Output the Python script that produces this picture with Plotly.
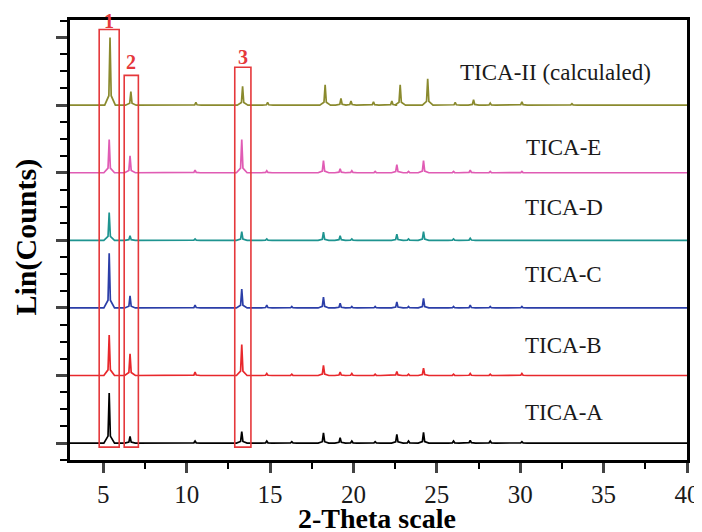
import plotly.graph_objects as go

# ---- data ----
two_theta_exp = [5.35, 6.6, 10.5, 13.3, 14.8, 16.3, 18.2, 19.2, 19.9, 21.3, 22.6, 23.3, 24.2, 26.0, 27.0, 28.2, 30.1]
two_theta_calc = [5.4, 6.65, 10.55, 13.35, 14.85, 18.3, 19.25, 19.85, 21.2, 22.3, 22.8, 24.45, 26.1, 27.2, 28.2, 30.1, 33.1]

heights_A = [0.74, 0.10, 0.03, 0.17, 0.03, 0.02, 0.15, 0.08, 0.03, 0.02, 0.13, 0.03, 0.16, 0.03, 0.04, 0.03, 0.02]
heights_B = [0.60, 0.32, 0.05, 0.46, 0.03, 0.02, 0.15, 0.05, 0.03, 0.02, 0.06, 0.02, 0.11, 0.02, 0.03, 0.02, 0.03]
heights_C = [0.81, 0.18, 0.04, 0.28, 0.04, 0.02, 0.16, 0.07, 0.02, 0.02, 0.09, 0.02, 0.14, 0.02, 0.04, 0.02, 0.02]
heights_D = [0.41, 0.07, 0.02, 0.13, 0.02, 0.01, 0.12, 0.07, 0.02, 0.01, 0.09, 0.02, 0.13, 0.02, 0.03, 0.01, 0.01]
heights_E = [0.49, 0.25, 0.04, 0.49, 0.03, 0.01, 0.18, 0.06, 0.03, 0.02, 0.12, 0.02, 0.18, 0.02, 0.04, 0.02, 0.02]
heights_calc = [1.00, 0.20, 0.04, 0.28, 0.04, 0.30, 0.10, 0.06, 0.05, 0.06, 0.30, 0.39, 0.04, 0.08, 0.03, 0.05, 0.02]

series_names = ["TICA-A", "TICA-B", "TICA-C", "TICA-D", "TICA-E", "TICA-II (calculaled)"]
series_positions = [two_theta_exp, two_theta_exp, two_theta_exp, two_theta_exp, two_theta_exp, two_theta_calc]
series_heights = [heights_A, heights_B, heights_C, heights_D, heights_E, heights_calc]
series_offsets = [0, 1, 2, 3, 4, 5]
label_y = [0.46, 1.45, 2.49, 3.48, 4.38, 5.49]
label_x = [32.6, 32.6, 32.6, 32.6, 32.6, 32.1]

# highlighted regions
highlight_labels = ["1", "2", "3"]
highlight_x0 = [4.75, 6.25, 12.88]
highlight_x1 = [5.95, 7.1, 13.85]
highlight_top = [6.12, 5.44, 5.56]
highlight_label_x = [5.36, 6.67, 13.38]
highlight_label_y = [6.24, 5.64, 5.71]

colors = ["#000000", "#e8282c", "#2b3ea8", "#1e9490", "#e05cb4", "#8a8a2e"]

X_MIN, X_MAX = 3, 40
FOOT, MID, MID_FRAC = 0.32, 0.07, 0.14


def profile(positions, heights, offset):
    xs, ys = [X_MIN], [offset]
    for p, h in zip(positions, heights):
        xs += [p - FOOT, p - MID, p, p + MID, p + FOOT]
        ys += [offset, offset + MID_FRAC * h, offset + h, offset + MID_FRAC * h, offset]
    xs.append(X_MAX)
    ys.append(offset)
    return xs, ys


fig = go.Figure()
for name, pos, hts, off, col in zip(series_names, series_positions, series_heights, series_offsets, colors):
    xs, ys = profile(pos, hts, off)
    fig.add_trace(go.Scatter(x=xs, y=ys, mode="lines", name=name,
                             line=dict(color=col, width=1.7), showlegend=False))

FONT = "Liberation Serif, Times New Roman, serif"
annotations = []
for name, lx, ly in zip(series_names, label_x, label_y):
    annotations.append(dict(x=lx, y=ly, xref="x", yref="y", text=name, showarrow=False,
                            font=dict(family=FONT, size=23, color="#1a1a1a")))

shapes = []
for lab, x0, x1, top, tx, ty in zip(highlight_labels, highlight_x0, highlight_x1, highlight_top,
                                    highlight_label_x, highlight_label_y):
    shapes.append(dict(type="rect", xref="x", yref="y", x0=x0, x1=x1, y0=-0.06, y1=top,
                       line=dict(color="#e5383b", width=1.6)))
    annotations.append(dict(x=tx, y=ty, xref="x", yref="y", text="<b>" + lab + "</b>", showarrow=False,
                            font=dict(family=FONT, size=20, color="#e5383b")))

# axis titles
annotations.append(dict(x=0.4976, y=-0.134, xref="paper", yref="paper", text="<b>2-Theta scale</b>",
                        showarrow=False, xanchor="center", yanchor="middle",
                        font=dict(family=FONT, size=28, color="black")))
annotations.append(dict(x=-0.072, y=0.507, xref="paper", yref="paper", text="<b>Lin(Counts)</b>",
                        showarrow=False, xanchor="center", yanchor="middle", textangle=-90,
                        font=dict(family=FONT, size=30, color="black")))

# the page body adds an 8px offset, so margins are shifted to keep the plot area in place
fig.update_layout(
    width=702, height=532,
    margin=dict(l=62, r=23, t=12, b=80, autoexpand=False),
    paper_bgcolor="white", plot_bgcolor="white",
    shapes=shapes, annotations=annotations,
    font=dict(family=FONT, color="black"),
)
fig.update_xaxes(
    range=[X_MIN, X_MAX], tick0=5, dtick=5, ticks="outside", ticklen=10, tickwidth=2.5,
    showline=True, linewidth=3, linecolor="black", mirror=True,
    showgrid=False, zeroline=False, automargin=False,
    tickfont=dict(family=FONT, size=25, color="#1a1a1a"),
    minor=dict(tick0=2.5, dtick=2.5, ticks="outside", ticklen=6, tickwidth=2, tickcolor="black"),
)
fig.update_yaxes(
    range=[-0.25, 6.26], tick0=0, dtick=1, ticks="outside", ticklen=11, tickwidth=2.5,
    showticklabels=False,
    showline=True, linewidth=3, linecolor="black", mirror=True,
    showgrid=False, zeroline=False, automargin=False,
    minor=dict(tick0=0, dtick=0.25, ticks="outside", ticklen=7, tickwidth=2, tickcolor="black"),
)

fig.write_html("out.html")
